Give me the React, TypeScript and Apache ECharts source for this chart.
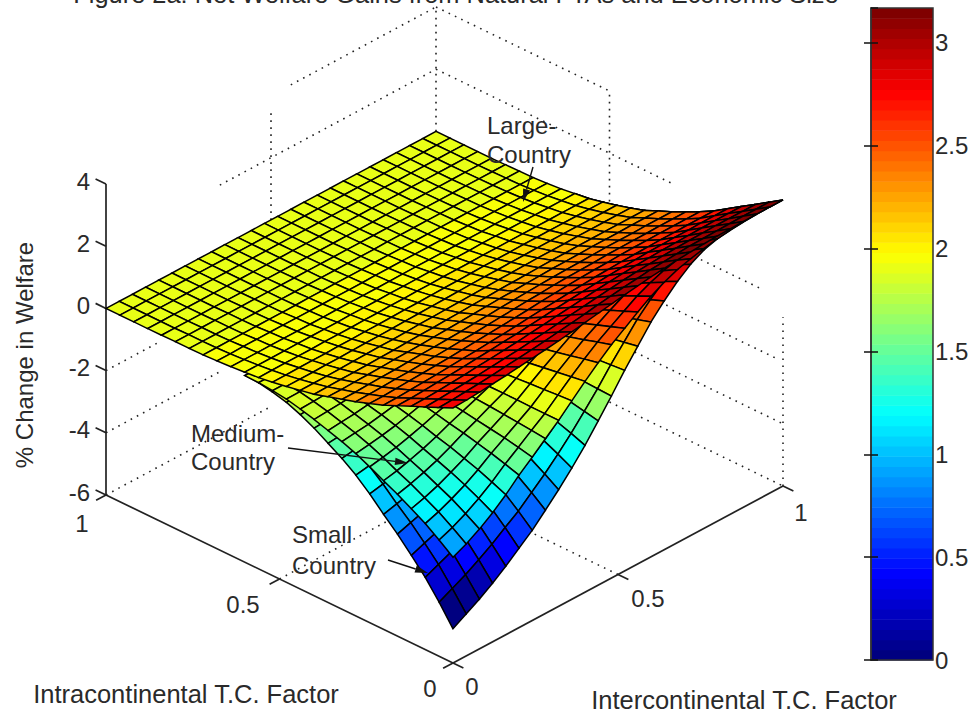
import React, { useEffect, useRef } from "react";
import * as echarts from "echarts";

const titleText = "Figure 2a: Net Welfare Gains from Natural FTAs and Economic Size";
const zAxisLabel = "% Change in Welfare";
const aAxisLabel = "Intracontinental T.C. Factor";
const bAxisLabel = "Intercontinental T.C. Factor";
const zTicks = [4, 2, 0, -2, -4, -6];
const factorTicks = [0, 0.5, 1];
const colorbarMax = 3.17;
const zColorMin = -4.9;
const zColorMax = 3.2;

// rows: intracontinental factor 0, .04, .08 ...; columns: intercontinental factor 0, .04, .08 ... 1
const largeZ = [
[2.20,2.22,2.25,2.29,2.33,2.38,2.43,2.48,2.54,2.60,2.67,2.74,2.81,2.88,2.94,3.00,3.05,3.09,3.12,3.15,3.17,3.18,3.19,3.20,3.20,3.20],
[2.00,2.02,2.05,2.08,2.12,2.17,2.21,2.26,2.31,2.37,2.43,2.49,2.56,2.62,2.68,2.73,2.78,2.81,2.84,2.87,2.88,2.89,2.90,2.91,2.91,2.91],
[1.80,1.82,1.85,1.88,1.91,1.95,1.99,2.03,2.08,2.13,2.19,2.25,2.30,2.36,2.41,2.46,2.50,2.53,2.56,2.58,2.60,2.61,2.62,2.62,2.62,2.62],
[1.61,1.62,1.64,1.67,1.70,1.74,1.77,1.81,1.85,1.90,1.95,2.00,2.05,2.10,2.15,2.19,2.23,2.26,2.28,2.30,2.31,2.32,2.33,2.34,2.34,2.34],
[1.41,1.42,1.44,1.47,1.49,1.52,1.56,1.59,1.63,1.66,1.71,1.75,1.80,1.84,1.88,1.92,1.95,1.98,2.00,2.02,2.03,2.04,2.04,2.05,2.05,2.05],
[1.21,1.22,1.24,1.26,1.28,1.31,1.34,1.36,1.40,1.43,1.47,1.51,1.55,1.58,1.62,1.65,1.68,1.70,1.72,1.73,1.74,1.75,1.75,1.76,1.76,1.76],
[1.05,1.05,1.07,1.09,1.11,1.13,1.15,1.18,1.21,1.24,1.27,1.30,1.33,1.37,1.40,1.43,1.45,1.47,1.48,1.50,1.51,1.51,1.52,1.52,1.52,1.52],
[.89,.90,.91,.93,.94,.96,.98,1.00,1.03,1.05,1.08,1.11,1.14,1.17,1.19,1.22,1.24,1.25,1.26,1.28,1.28,1.29,1.29,1.30,1.30,1.30],
[.75,.75,.77,.78,.79,.81,.83,.84,.86,.88,.91,.93,.96,.98,1.00,1.02,1.04,1.05,1.06,1.07,1.08,1.08,1.08,1.09,1.09,1.09],
[.62,.62,.63,.64,.65,.67,.68,.69,.71,.73,.75,.77,.79,.81,.82,.84,.85,.87,.87,.88,.89,.89,.89,.90,.90,.90],
[.48,.49,.50,.50,.51,.52,.53,.55,.56,.57,.59,.60,.62,.63,.65,.66,.67,.68,.69,.69,.70,.70,.70,.70,.70,.70],
[.39,.39,.39,.40,.41,.42,.43,.43,.44,.46,.47,.48,.49,.50,.51,.53,.53,.54,.55,.55,.55,.56,.56,.56,.56,.56],
[.30,.30,.30,.31,.31,.32,.33,.33,.34,.35,.36,.37,.38,.39,.40,.41,.41,.42,.42,.43,.43,.43,.43,.43,.43,.43],
[.22,.22,.23,.23,.23,.24,.24,.25,.25,.26,.27,.27,.28,.29,.29,.30,.31,.31,.31,.32,.32,.32,.32,.32,.32,.32],
[.15,.16,.16,.16,.16,.17,.17,.17,.18,.18,.19,.19,.20,.20,.21,.21,.21,.22,.22,.22,.22,.22,.22,.22,.22,.22],
[.11,.11,.11,.11,.12,.12,.12,.12,.13,.13,.13,.14,.14,.14,.15,.15,.15,.15,.16,.16,.16,.16,.16,.16,.16,.16],
[.07,.07,.07,.07,.07,.07,.07,.07,.08,.08,.08,.08,.08,.09,.09,.09,.09,.09,.09,.09,.10,.10,.10,.10,.10,.10],
[.04,.04,.05,.05,.05,.05,.05,.05,.05,.05,.05,.05,.06,.06,.06,.06,.06,.06,.06,.06,.06,.06,.06,.06,.06,.06],
[.02,.02,.02,.02,.02,.02,.02,.02,.03,.03,.03,.03,.03,.03,.03,.03,.03,.03,.03,.03,.03,.03,.03,.03,.03,.03],
[.01,.01,.01,.01,.01,.01,.01,.01,.01,.01,.01,.01,.01,.01,.01,.02,.02,.02,.02,.02,.02,.02,.02,.02,.02,.02],
[.01,.01,.01,.01,.01,.01,.01,.01,.01,.01,.01,.01,.01,.01,.01,.01,.01,.01,.01,.01,.01,.01,.01,.01,.01,.01],
[0,0,0,0,0,0,0,0,0,0,0,0,0,0,0,0,0,0,0,0,0,0,0,0,0,0],
[0,0,0,0,0,0,0,0,0,0,0,0,0,0,0,0,0,0,0,0,0,0,0,0,0,0],
[0,0,0,0,0,0,0,0,0,0,0,0,0,0,0,0,0,0,0,0,0,0,0,0,0,0],
[0,0,0,0,0,0,0,0,0,0,0,0,0,0,0,0,0,0,0,0,0,0,0,0,0,0],
[0,0,0,0,0,0,0,0,0,0,0,0,0,0,0,0,0,0,0,0,0,0,0,0,0,0],
];

const mediumZ = [
[-2.60,-2.40,-2.15,-1.85,-1.50,-1.10,-.75,-.38,-.02,.38,.78,1.15,1.50,1.80,2.10,2.38,2.60,2.78,2.90,3.00,3.08,3.13,3.17,3.19,3.20,3.20],
[-2.26,-2.09,-1.87,-1.61,-1.31,-.96,-.65,-.33,-.02,.35,.71,1.05,1.37,1.64,1.91,2.17,2.37,2.53,2.64,2.73,2.80,2.85,2.88,2.90,2.91,2.91],
[-1.95,-1.80,-1.61,-1.39,-1.13,-.83,-.56,-.29,-.02,.31,.64,.94,1.23,1.48,1.72,1.95,2.13,2.28,2.38,2.46,2.53,2.57,2.60,2.62,2.62,2.62],
[-1.69,-1.56,-1.40,-1.20,-.98,-.72,-.49,-.25,-.01,.28,.57,.84,1.10,1.31,1.53,1.74,1.90,2.03,2.12,2.19,2.25,2.28,2.31,2.33,2.34,2.34],
[-1.44,-1.33,-1.19,-1.03,-.83,-.61,-.42,-.21,-.01,.24,.50,.74,.96,1.15,1.34,1.52,1.66,1.78,1.86,1.92,1.97,2.00,2.03,2.04,2.05,2.05],
[-1.22,-1.13,-1.01,-.87,-.71,-.52,-.35,-.18,-.01,.21,.43,.63,.83,.99,1.16,1.31,1.43,1.53,1.60,1.65,1.69,1.72,1.74,1.75,1.76,1.76],
[-.99,-.91,-.82,-.70,-.57,-.42,-.29,-.14,-.01,.18,.37,.55,.71,.86,1.00,1.13,1.24,1.32,1.38,1.43,1.46,1.49,1.51,1.52,1.52,1.52],
[-.78,-.72,-.65,-.56,-.45,-.33,-.23,-.11,-.01,.15,.32,.47,.61,.73,.85,.96,1.05,1.13,1.17,1.22,1.25,1.27,1.28,1.29,1.30,1.30],
[-.61,-.56,-.51,-.43,-.35,-.26,-.18,-.09,0,.13,.27,.39,.51,.61,.71,.81,.88,.95,.99,1.02,1.05,1.06,1.08,1.08,1.09,1.09],
[-.47,-.43,-.39,-.33,-.27,-.20,-.14,-.07,0,.11,.22,.32,.42,.50,.59,.67,.73,.78,.81,.84,.86,.88,.89,.89,.90,.90],
[-.33,-.30,-.27,-.23,-.19,-.14,-.09,-.05,0,.08,.17,.25,.33,.40,.46,.52,.57,.61,.64,.66,.68,.69,.70,.70,.70,.70],
[-.21,-.19,-.17,-.15,-.12,-.09,-.06,-.03,0,.07,.14,.20,.26,.32,.37,.42,.46,.49,.51,.53,.54,.55,.55,.56,.56,.56],
[-.11,-.10,-.09,-.08,-.06,-.05,-.03,-.02,0,.05,.11,.16,.20,.24,.28,.32,.35,.38,.39,.41,.42,.42,.43,.43,.43,.43],
[-.05,-.05,-.04,-.04,-.03,-.02,-.02,-.01,0,.04,.08,.12,.15,.18,.21,.24,.26,.28,.29,.30,.31,.31,.32,.32,.32,.32],
[-.01,-.01,-.01,-.01,-.01,-.01,0,0,0,.03,.05,.08,.11,.13,.15,.17,.18,.19,.20,.21,.22,.22,.22,.22,.22,.22],
[0,0,0,0,0,0,0,0,0,.02,.04,.06,.08,.09,.11,.12,.13,.14,.15,.15,.16,.16,.16,.16,.16,.16],
];

const smallZ = [
[-4.90,-4.65,-4.40,-4.12,-3.80,-3.45,-3.10,-2.68,-2.25,-1.78,-1.28,-.72,-.15,.45,1.00,1.55,2.00,2.40,2.72,2.95,3.08,3.14,3.18,3.20,3.20,3.20],
[-4.26,-4.05,-3.83,-3.58,-3.31,-3.00,-2.70,-2.33,-1.96,-1.55,-1.11,-.63,-.13,.41,.91,1.41,1.82,2.18,2.48,2.68,2.80,2.86,2.89,2.91,2.91,2.91],
[-3.68,-3.49,-3.30,-3.09,-2.85,-2.59,-2.33,-2.01,-1.69,-1.34,-.96,-.54,-.11,.37,.82,1.27,1.64,1.97,2.23,2.42,2.53,2.57,2.61,2.62,2.62,2.62],
[-3.19,-3.02,-2.86,-2.68,-2.47,-2.24,-2.02,-1.74,-1.46,-1.16,-.83,-.47,-.10,.33,.73,1.13,1.46,1.75,1.99,2.15,2.25,2.29,2.32,2.34,2.34,2.34],
[-2.72,-2.58,-2.44,-2.29,-2.11,-1.91,-1.72,-1.49,-1.25,-.99,-.71,-.40,-.08,.29,.64,.99,1.28,1.54,1.74,1.89,1.97,2.01,2.04,2.05,2.05,2.05],
[-2.30,-2.19,-2.07,-1.94,-1.79,-1.62,-1.46,-1.26,-1.06,-.84,-.60,-.34,-.07,.25,.55,.85,1.10,1.32,1.50,1.62,1.69,1.73,1.75,1.76,1.76,1.76],
[-1.86,-1.77,-1.67,-1.57,-1.44,-1.31,-1.18,-1.02,-.86,-.68,-.49,-.27,-.06,.21,.48,.74,.95,1.14,1.29,1.40,1.46,1.49,1.51,1.52,1.52,1.52],
[-1.47,-1.40,-1.32,-1.24,-1.14,-1.04,-.93,-.80,-.68,-.53,-.38,-.22,-.05,.18,.41,.63,.81,.97,1.10,1.19,1.25,1.27,1.29,1.30,1.30,1.30],
[-1.15,-1.09,-1.03,-.97,-.89,-.81,-.73,-.63,-.53,-.42,-.30,-.17,-.04,.15,.34,.53,.68,.82,.92,1.00,1.05,1.07,1.08,1.09,1.09,1.09],
[-.88,-.84,-.79,-.74,-.68,-.62,-.56,-.48,-.41,-.32,-.23,-.13,-.03,.13,.28,.43,.56,.67,.76,.83,.86,.88,.89,.90,.90,.90],
[-.61,-.58,-.55,-.52,-.48,-.43,-.39,-.34,-.28,-.22,-.16,-.09,-.02,.10,.22,.34,.44,.53,.60,.65,.68,.69,.70,.70,.70,.70],
[-.39,-.37,-.35,-.33,-.30,-.28,-.25,-.21,-.18,-.14,-.10,-.06,-.01,.08,.18,.27,.35,.42,.48,.52,.54,.55,.56,.56,.56,.56],
[-.21,-.20,-.19,-.18,-.16,-.15,-.13,-.12,-.10,-.08,-.06,-.03,-.01,.06,.14,.21,.27,.32,.37,.40,.42,.43,.43,.43,.43,.43],
[-.10,-.09,-.09,-.08,-.08,-.07,-.06,-.05,-.05,-.04,-.03,-.01,0,.05,.10,.16,.20,.24,.27,.30,.31,.32,.32,.32,.32,.32],
[-.02,-.02,-.02,-.02,-.02,-.02,-.02,-.01,-.01,-.01,-.01,0,0,.03,.07,.11,.14,.17,.19,.21,.22,.22,.22,.22,.22,.22],
[0,0,0,0,0,0,0,0,0,0,0,0,0,.02,.05,.08,.10,.12,.14,.15,.15,.16,.16,.16,.16,.16],
];

// [a0, b0, z0, a1, b1, z1] in data space: the dotted grid as far as it shows
const dottedGrid = [
  [1,.56,4,1,1,4],[1,.345,2,1,1,2],[1,0,-2,1,.16,-2],[1,0,-4,1,.35,-4],[1,0,-6,1,.5,-6],
  [1,.5,0,1,.5,3.45],[1,1,0,1,1,4],
  [1,1,4,.5,1,4],[1,1,2,.32,1,2],[.4,1,0,.066,1,0],[.5,1,-2,.017,1,-2],[.5,1,-4,0,1,-4],[.5,1,-6,0,1,-6],
  [0,1,-6,0,1,-.57],[.5,1,0,.5,1,4],[.5,0,-6,.5,.4,-6],[0,.5,-6,.3,.5,-6],
];
const solidAxes = [[1,0,-6,1,0,4],[0,0,-6,1,0,-6],[0,0,-6,0,1,-6]];

// pixel projection of the MATLAB view (a, b in 0..1, z in welfare %)
const origin = [453, 663];
const aVec = [-347, -168];
const bVec = [330, -177];
const zUnit = -31.1;
const project = (a: number, b: number, z: number) => [
  origin[0] + a * aVec[0] + b * bVec[0],
  origin[1] + a * aVec[1] + b * bVec[1] + (z + 6) * zUnit,
];

const jet = (t0: number) => {
  const t = Math.min(63, Math.max(0, Math.floor(t0 * 64))) / 63;
  const c = (v: number) => Math.round(255 * Math.max(0, Math.min(1, v)));
  return `rgb(${c(Math.min(4 * t - 1.5, -4 * t + 4.5))},${c(Math.min(4 * t - 0.5, -4 * t + 3.5))},${c(Math.min(4 * t + 0.5, -4 * t + 2.5))})`;
};

const FONT = '"Liberation Sans", Arial, sans-serif';
const TEXT = "#2a2a2a";
const FS = 24;
const FS_AXIS = 25.5;

const surfaceSeries = (grid: number[][], z: number) => {
  const cells: number[][] = [];
  for (let i = grid.length - 2; i >= 0; i--) for (let j = 0; j < 25; j++) cells.push([i, j, i + j]);
  cells.sort((p, q) => q[2] - p[2]);
  return {
    type: "custom", coordinateSystem: "cartesian2d", xAxisIndex: 0, yAxisIndex: 0, z, silent: true, progressive: 0, clip: false,
    data: cells,
    renderItem: (_: any, api: any) => {
      const i = api.value(0), j = api.value(1);
      const step = 1 / 25;
      const pt = (r: number, c: number) => api.coord(project(r * step, c * step, grid[r][c]));
      return {
        type: "polygon",
        shape: { points: [pt(i, j), pt(i + 1, j), pt(i + 1, j + 1), pt(i, j + 1)] },
        style: { fill: jet((grid[i][j] - zColorMin) / (zColorMax - zColorMin)), stroke: "#000", lineWidth: 1.5 },
      };
    },
  };
};

const lineSeries = (segs: number[][], style: any, z: number) => ({
  type: "custom", coordinateSystem: "cartesian2d", xAxisIndex: 0, yAxisIndex: 0, z, silent: true, clip: false,
  data: segs,
  renderItem: (_: any, api: any) => {
    const s = [0, 1, 2, 3, 4, 5].map((k) => api.value(k));
    const p0 = api.coord(project(s[0], s[1], s[2]));
    const p1 = api.coord(project(s[3], s[4], s[5]));
    return { type: "line", shape: { x1: p0[0], y1: p0[1], x2: p1[0], y2: p1[1] }, style };
  },
});

const label = (text: string, x: number, y: number, align = "center", fontSize = FS) => ({
  type: "text", z: 50, silent: true,
  style: { text, x, y, fill: TEXT, fontFamily: FONT, fontSize, textAlign: align, textVerticalAlign: "middle" },
});
const arrow = (x1: number, y1: number, x2: number, y2: number) => {
  const ang = Math.atan2(y2 - y1, x2 - x1), L = 13, W = 3.6;
  const bx = x2 - L * Math.cos(ang), by = y2 - L * Math.sin(ang);
  const nx = -Math.sin(ang) * W, ny = Math.cos(ang) * W;
  return [
    { type: "line", z: 50, silent: true, shape: { x1, y1, x2: bx, y2: by }, style: { stroke: "#111", lineWidth: 1.4 } },
    { type: "polygon", z: 50, silent: true, shape: { points: [[x2, y2], [bx + nx, by + ny], [bx - nx, by - ny]] }, style: { fill: "#111" } },
  ];
};

export default function App() {
  const ref = useRef<HTMLDivElement>(null);
  useEffect(() => {
    document.body.style.margin = "0";
    const chart = echarts.init(ref.current!, null, { renderer: "svg" });
    const aTicks = factorTicks.map((v) => [v, 0, -6, v, -0.03, -6]);
    const bTicks = factorTicks.map((v) => [0, v, -6, -0.03, v, -6]);
    const zTickSegs = zTicks.map((v) => [1, 0, v, 1.03, 0, v]);
    const bandCount = 64;
    const bands = Array.from({ length: bandCount }, (_, k) => k);
    chart.setOption({
      animation: false,
      backgroundColor: "#fff",
      grid: [
        { left: 0, top: 0, width: 975, height: 717, show: false },
        { left: 871, top: 8, width: 62, height: 652, show: true, borderColor: "#333", borderWidth: 1.5, z: 6 },
      ],
      xAxis: [
        { gridIndex: 0, type: "value", min: 0, max: 975, show: false },
        { gridIndex: 1, type: "value", min: 0, max: 1, show: false },
      ],
      yAxis: [
        { gridIndex: 0, type: "value", min: 0, max: 717, inverse: true, show: false },
        {
          gridIndex: 1, type: "value", min: 0, max: colorbarMax, interval: 0.5, position: "right", z: 7,
          axisLine: { show: true, lineStyle: { color: "#333", width: 1.5 } },
          axisTick: { show: true, inside: true, length: 7, lineStyle: { color: "#111", width: 1.5 } },
          splitLine: { show: false },
          axisLabel: { showMaxLabel: false, showMinLabel: true, margin: 2, padding: [7, 0, 0, 0], color: TEXT, fontFamily: FONT, fontSize: FS },
        },
        {
          gridIndex: 1, type: "value", min: 0, max: colorbarMax, interval: 0.5, position: "left", z: 7,
          axisLine: { show: false },
          axisTick: { show: true, inside: true, length: 7, lineStyle: { color: "#111", width: 1.5 } },
          splitLine: { show: false }, axisLabel: { show: false },
        },
      ],
      series: [
        lineSeries(dottedGrid, { stroke: "#222", lineWidth: 1.6, lineDash: [1.6, 5.4] }, 1),
        lineSeries([...solidAxes, ...aTicks, ...bTicks, ...zTickSegs], { stroke: "#222", lineWidth: 1.7 }, 1),
        surfaceSeries(smallZ, 2),
        surfaceSeries(mediumZ, 3),
        surfaceSeries(largeZ, 4),
        {
          type: "custom", coordinateSystem: "cartesian2d", xAxisIndex: 1, yAxisIndex: 1, z: 2, silent: true,
          data: bands.map((k) => [k]),
          renderItem: (_: any, api: any) => {
            const k = api.value(0);
            const p0 = api.coord([0, (k * colorbarMax) / bandCount]);
            const p1 = api.coord([1, ((k + 1) * colorbarMax) / bandCount]);
            return {
              type: "rect",
              shape: { x: p0[0], y: p1[1], width: p1[0] - p0[0], height: p0[1] - p1[1] + 0.5 },
              style: { fill: jet((k + 0.5) / bandCount) },
            };
          },
        },
      ],
      graphic: [
        { type: "text", z: 50, silent: true, style: { text: titleText, x: 456, y: 6, fill: TEXT, fontFamily: FONT, fontSize: 25.4, textAlign: "center", textVerticalAlign: "bottom" } },
        ...zTicks.map((v, k) => label(String(v), 90, 181 + k * 62.2, "right")),
        label("1", 82, 523), label("0.5", 243, 604), label("0", 430, 688),
        label("0", 472, 686), label("0.5", 648, 598), label("1", 801, 512),
        label(aAxisLabel, 186, 694, "center", FS_AXIS), label(bAxisLabel, 744, 700, "center", FS_AXIS),
        { type: "text", z: 50, silent: true, x: 24, y: 355, rotation: Math.PI / 2,
          style: { text: zAxisLabel, x: 0, y: 0, fill: TEXT, fontFamily: FONT, fontSize: FS, textAlign: "center", textVerticalAlign: "middle" } },
        label("Large-", 487, 125, "left"), label("Country", 487, 154, "left"),
        label("Medium-", 191, 433, "left"), label("Country", 191, 461, "left"),
        label("Small", 292, 534, "left"), label("Country", 292, 565, "left"),
        ...arrow(533, 167, 523, 202),
        ...arrow(288, 448, 408, 463),
        ...arrow(388, 560, 428, 573),
      ],
    });
    return () => chart.dispose();
  }, []);
  return <div ref={ref} style={{ width: 975, height: 717, overflow: "hidden" }} />;
}
